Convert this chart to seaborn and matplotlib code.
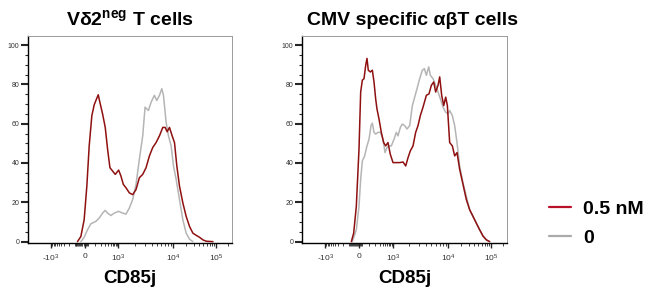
import numpy as np
import pandas as pd
import matplotlib
matplotlib.use("Agg")
import matplotlib.pyplot as plt
from matplotlib.lines import Line2D
import seaborn as sns

# CD85j intensity (x) and % of max (y)
# left panel: Vd2neg T cells
vd2_red_x = [-69, -35, -5, 19, 41, 68, 95, 126, 152, 180, 235, 303, 377, 467, 595, 758,
             1011, 1115, 1231, 1376, 1583, 1821, 2093, 2407, 2769, 3182, 3662, 4212, 4841,
             5570, 6405, 7065, 7680, 8470, 9470, 10570, 11990, 13840, 16560, 19830, 23740,
             28420, 34000, 40700, 48700, 58300, 83500]
vd2_red_y = [0, 2.6, 11.1, 28.2, 48.7, 64.1, 69.6, 72.6, 74.7, 70.9, 65.0, 58.1, 47.0, 37.6,
             35.9, 34.2, 36.4, 33.3, 29.1, 27.4, 24.8, 23.9, 26.5, 32.5, 34.2, 37.6, 43.6,
             47.9, 50.4, 53.8, 58.1, 58.1, 55.9, 58.1, 53.8, 50.4, 38.5, 28.2, 19.7, 12.8,
             7.7, 4.3, 3.2, 2.2, 0.9, 0.2, 0]
vd2_gray_x = [-35, -5, 25, 58, 117, 168, 235, 303, 377, 512, 692, 1011, 1196, 1376, 1583,
              1821, 2093, 2407, 2769, 3054, 3510, 3930, 4510, 4980, 5570, 6140, 6590, 7360,
              8120, 9080, 10010, 11560, 13840, 16560, 19830, 23740, 28420]
vd2_gray_y = [0, 2.2, 6.0, 9.1, 10.3, 12.0, 14.5, 15.9, 14.5, 13.3, 14.5, 15.4, 14.5, 14.0,
              17.1, 21.4, 29.1, 41.9, 53.8, 68.4, 66.7, 70.9, 74.4, 71.8, 74.4, 77.8, 74.4,
              60.7, 53.8, 48.7, 38.5, 31.6, 21.4, 11.1, 4.3, 1.2, 0]

# right panel: CMV specific abT cells
cmv_red_x = [-73, -49, -24, 0, 15, 30, 46, 63, 77, 92, 118, 148, 176, 208, 236, 286, 355,
             439, 526, 650, 800, 1008, 1159, 1331, 1530, 1710, 1884, 2077, 2320, 2591, 2855,
             3144, 3515, 4040, 4510, 4970, 5480, 5950, 6560, 7030, 7640, 8310, 9020, 9670,
             10830, 12500, 14160, 16040, 18490, 22100, 26400, 31600, 37800, 45100, 53900,
             64500, 77000, 92100]
cmv_red_y = [0, 4.3, 17.9, 47.0, 76.1, 82.1, 82.9, 89.7, 93.2, 87.2, 86.3, 87.2, 81.2, 72.6,
             67.5, 62.4, 55.6, 50.4, 48.7, 50.4, 44.4, 40.2, 40.2, 40.2, 40.5, 38.5, 42.7,
             46.2, 48.7, 55.6, 59.0, 64.1, 68.4, 74.4, 75.2, 79.5, 81.2, 76.1, 79.5, 83.8,
             74.4, 69.2, 73.5, 69.2, 50.4, 48.7, 43.6, 45.3, 36.8, 29.1, 21.4, 16.2, 12.8,
             9.4, 6.0, 2.9, 0.9, 0]
cmv_gray_x = [-63, -24, 0, 15, 30, 52, 77, 101, 128, 148, 176, 208, 260, 324, 414, 496, 594,
              710, 876, 1051, 1159, 1242, 1369, 1487, 1640, 1807, 2019, 2256, 2487, 2739,
              3062, 3422, 3718, 4040, 4451, 4770, 5330, 5950, 6560, 7230, 8080, 9020, 9950,
              10830, 12500, 14160, 16040, 18490, 22100, 26400, 31600, 37800, 45100, 53900,
              64500, 77000, 92100]
cmv_gray_y = [0, 6.0, 17.9, 31.6, 41.0, 43.6, 48.7, 52.1, 59.0, 60.3, 55.6, 54.7, 55.6, 55.6,
              52.1, 45.3, 47.9, 48.7, 48.7, 52.1, 55.6, 53.8, 58.1, 59.8, 59.0, 57.3, 59.0,
              69.2, 73.5, 77.8, 82.9, 87.2, 88.0, 84.6, 88.9, 84.6, 82.9, 79.5, 76.1, 72.6,
              68.4, 65.8, 65.0, 66.7, 64.1, 59.0, 50.4, 38.5, 29.9, 23.1, 16.2, 12.8, 9.4,
              6.0, 2.6, 0.9, 0]

conditions = ["0", "0.5 nM"]
colors = {"0": "#b5b5b5", "0.5 nM": "#8e1010"}
titles = ["V\u03b42$^{\\mathbf{neg}}$ T cells", "CMV specific \u03b1\u03b2T cells"]

major_ticks = [-1000, 0, 1000, 10000, 100000]
major_labels = ["-10$^{3}$", "0", "10$^{3}$", "10$^{4}$", "10$^{5}$"]
minor_ticks = ([-100 * i for i in range(2, 10)] + [-10 * i for i in range(1, 11)]
               + [10 * i for i in range(1, 4)] + [100 * i for i in range(1, 10)]
               + [1000 * i for i in range(2, 10)] + [10000 * i for i in range(2, 10)]
               + [200000])

# biexponential-like display axis (asinh, fitted to the reference decades)
T_ANCH = np.array([-40.0, -3.0, 0.0, 2.998, 5.298, 7.601, 8.565, 40.0])
F_ANCH = np.array([0.278 - 40 * 0.055, 0.113, 0.278, 0.443, 0.713, 0.923, 1.0,
                   1.0 + 31.435 * 0.0799])


def forward(v):
    return np.interp(np.arcsinh(np.asarray(v, dtype=float) / 100.0), T_ANCH, F_ANCH)


def inverse(f):
    return 100.0 * np.sinh(np.interp(np.asarray(f, dtype=float), F_ANCH, T_ANCH))


sns.set_style("ticks")
plt.rcParams["font.family"] = ["Liberation Sans", "DejaVu Sans"]
plt.rcParams["text.color"] = "black"
plt.rcParams["axes.labelcolor"] = "black"
plt.rcParams["mathtext.fontset"] = "custom"
plt.rcParams["mathtext.rm"] = "Liberation Sans"
plt.rcParams["mathtext.it"] = "Liberation Sans:italic"
plt.rcParams["mathtext.bf"] = "Liberation Sans:bold"

fig = plt.figure(figsize=(6.5, 2.94), dpi=100)
ax1 = fig.add_axes([28 / 650, 1 - 243 / 294, 204 / 650, 207 / 294])
ax2 = fig.add_axes([302 / 650, 1 - 243 / 294, 205 / 650, 207 / 294])

panels = [
    (ax1, vd2_gray_x, vd2_gray_y, vd2_red_x, vd2_red_y, 0.5),
    (ax2, cmv_gray_x, cmv_gray_y, cmv_red_x, cmv_red_y, 0.537),
]

for i, (ax, gx, gy, rx, ry, tx) in enumerate(panels):
    df = pd.concat([
        pd.DataFrame({"CD85j": gx, "pct": gy, "cond": "0"}),
        pd.DataFrame({"CD85j": rx, "pct": ry, "cond": "0.5 nM"}),
    ])
    sns.lineplot(data=df, x="CD85j", y="pct", hue="cond", hue_order=conditions,
                 palette=colors, estimator=None, linewidth=1.1, legend=False, ax=ax)
    ax.set_xscale("function", functions=(forward, inverse))
    ax.set_xlim(inverse(0.0), inverse(1.0))
    ax.set_ylim(-0.7, 104.6)

    ax.set_xticks(major_ticks)
    ax.set_xticklabels(major_labels)
    ax.set_xticks(minor_ticks, minor=True)
    ax.set_yticks([0, 20, 40, 60, 80, 100])
    ax.set_yticks(np.arange(0, 101, 5), minor=True)

    ax.tick_params(axis="y", which="major", length=4.8, width=1.5, pad=1.5,
                   labelsize=5, labelcolor="#333333")
    ax.tick_params(axis="y", which="minor", length=2.2, width=0.8)
    ax.tick_params(axis="x", which="major", length=3.5, width=1.0, pad=3.5,
                   labelsize=6, labelcolor="#333333")
    ax.tick_params(axis="x", which="minor", length=2.3, width=0.6)

    for side in ["top", "right"]:
        ax.spines[side].set_color("#9a9a9a")
        ax.spines[side].set_linewidth(0.7)
    for side in ["left", "bottom"]:
        ax.spines[side].set_color("black")
        ax.spines[side].set_linewidth(1.0)

    ax.set_ylabel("")
    ax.set_xlabel("CD85j", fontsize=13.5, fontweight="bold")
    ax.xaxis.set_label_coords(0.5, -0.13)
    ax.set_title(titles[i], fontsize=14, fontweight="bold", pad=8, x=tx)

handles = [Line2D([], [], color="#b8122b", linewidth=1.6),
           Line2D([], [], color="#ababab", linewidth=1.6)]
leg = fig.legend(handles, ["0.5 nM", "0"], loc="upper left",
                 bbox_to_anchor=(549 / 650, 1 - 200 / 294), frameon=False,
                 borderpad=0, borderaxespad=0, handlelength=1.13, handletextpad=0.62,
                 labelspacing=0.62, prop={"size": 14, "weight": "bold"})

fig.savefig("out.png", dpi=100)
